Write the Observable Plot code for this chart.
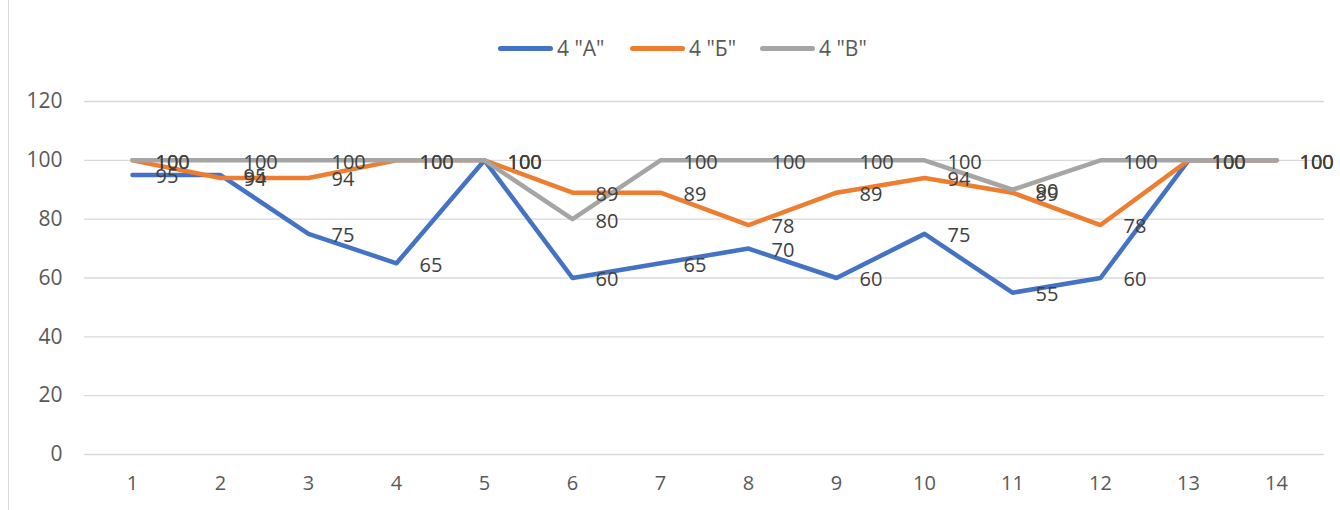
<!DOCTYPE html>
<html>
<head>
<meta charset="utf-8">
<script src="https://cdn.jsdelivr.net/npm/d3@7"></script>
<script src="https://cdn.jsdelivr.net/npm/@observablehq/plot@0.6"></script>
<style>
  body { margin: 0; background: #fff; font-family: "Open Sans", "Liberation Sans", sans-serif; }
  #frame { position: relative; width: 1340px; height: 510px; overflow: hidden; }
  #border { position: absolute; left: 8px; top: 0; width: 1px; height: 510px; background: #d9d9d9; }
  #legend { position: absolute; left: 0; top: 0; width: 1340px; height: 70px; }
  .item { position: absolute; top: 34px; font-size: 21px; color: #595959; line-height: 28px; white-space: nowrap; }
  .sw { display: inline-block; width: 55px; height: 5px; border-radius: 3px; vertical-align: middle; margin-right: 4px; position: relative; top: -2px; }
  #chart { position: absolute; left: 0; top: 70px; }
</style>
</head>
<body>
<div id="frame">
  <div id="border"></div>
  <div id="legend"></div>
  <div id="chart"></div>
</div>
<script>
const categories = [1, 2, 3, 4, 5, 6, 7, 8, 9, 10, 11, 12, 13, 14];
const seriesNames = ['4 "А"', '4 "Б"', '4 "В"'];
const seriesColors = ["#4472C4", "#ED7D31", "#A5A5A5"];
const valuesA = [95, 95, 75, 65, 100, 60, 65, 70, 60, 75, 55, 60, 100, 100];
const valuesB = [100, 94, 94, 100, 100, 89, 89, 78, 89, 94, 89, 78, 100, 100];
const valuesV = [100, 100, 100, 100, 100, 80, 100, 100, 100, 100, 90, 100, 100, 100];
const yTicks = [0, 20, 40, 60, 80, 100, 120];

const allValues = [valuesA, valuesB, valuesV];
const data = [];
allValues.forEach((vals, si) => {
  vals.forEach((v, i) => data.push({series: seriesNames[si], cat: categories[i], value: v}));
});

// legend
const legend = document.getElementById("legend");
const legendX = [498, 630, 760];
seriesNames.forEach((name, i) => {
  const d = document.createElement("div");
  d.className = "item";
  d.style.left = legendX[i] + "px";
  d.innerHTML = `<span class="sw" style="background:${seriesColors[i]}"></span>`;
  d.appendChild(document.createTextNode(name));
  legend.appendChild(d);
});

const plot = Plot.plot({
  width: 1340,
  height: 440,
  marginLeft: 84,
  marginRight: 16,
  marginTop: 31,
  marginBottom: 56,
  style: { fontFamily: "'Open Sans', 'Liberation Sans', sans-serif", background: "transparent" },
  x: { type: "point", domain: categories, padding: 0.5, label: null },
  y: { domain: [0, 120], ticks: yTicks, label: null },
  color: { domain: seriesNames, range: seriesColors },
  marks: [
    Plot.ruleY(yTicks, { stroke: "#d9d9d9", strokeWidth: 1.3 }),
    Plot.axisY({ ticks: yTicks, tickSize: 0, tickPadding: 22, fontSize: 21, fill: "#595959", label: null }),
    Plot.axisX({ tickSize: 0, tickPadding: 21, fontSize: 20, fill: "#595959", label: null }),
    Plot.line(data, { x: "cat", y: "value", z: "series", stroke: "series", strokeWidth: 4.5, strokeLinecap: "round", strokeLinejoin: "round" }),
    Plot.text(data, { x: "cat", y: "value", text: d => String(d.value), dx: 23, dy: 2, textAnchor: "start", lineAnchor: "middle", fontSize: 20, fill: "#404040" })
  ]
});
document.getElementById("chart").appendChild(plot);
</script>
</body>
</html>
